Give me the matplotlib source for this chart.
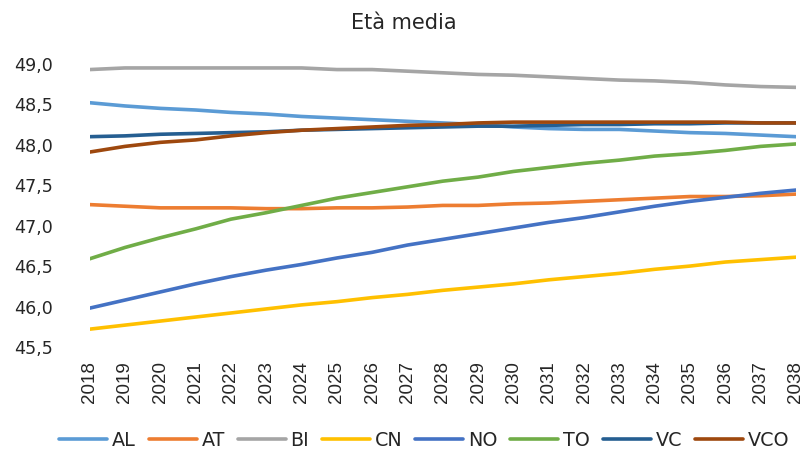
import matplotlib
matplotlib.use("Agg")
import matplotlib.pyplot as plt
from matplotlib.ticker import FuncFormatter, MultipleLocator

plt.rcParams['font.family'] = ['DejaVu Sans']

years = list(range(2018, 2039))

AL = [48.52, 48.48, 48.45, 48.43, 48.40, 48.38, 48.35, 48.33, 48.31, 48.29, 48.27,
      48.25, 48.22, 48.20, 48.19, 48.19, 48.17, 48.15, 48.14, 48.12, 48.10]
AT = [47.26, 47.24, 47.22, 47.22, 47.22, 47.21, 47.21, 47.22, 47.22, 47.23, 47.25,
      47.25, 47.27, 47.28, 47.30, 47.32, 47.34, 47.36, 47.36, 47.37, 47.39]
BI = [48.93, 48.95, 48.95, 48.95, 48.95, 48.95, 48.95, 48.93, 48.93, 48.91, 48.89,
      48.87, 48.86, 48.84, 48.82, 48.80, 48.79, 48.77, 48.74, 48.72, 48.71]
CN = [45.72, 45.77, 45.82, 45.87, 45.92, 45.97, 46.02, 46.06, 46.11, 46.15, 46.20,
      46.24, 46.28, 46.33, 46.37, 46.41, 46.46, 46.50, 46.55, 46.58, 46.61]
NO = [45.98, 46.08, 46.18, 46.28, 46.37, 46.45, 46.52, 46.60, 46.67, 46.76, 46.83,
      46.90, 46.97, 47.04, 47.10, 47.17, 47.24, 47.30, 47.35, 47.40, 47.44]
TO = [46.59, 46.73, 46.85, 46.96, 47.08, 47.16, 47.25, 47.34, 47.41, 47.48, 47.55,
      47.60, 47.67, 47.72, 47.77, 47.81, 47.86, 47.89, 47.93, 47.98, 48.01]
VC = [48.10, 48.11, 48.13, 48.14, 48.15, 48.16, 48.18, 48.19, 48.20, 48.21, 48.22,
      48.23, 48.23, 48.24, 48.25, 48.25, 48.26, 48.26, 48.27, 48.27, 48.27]
VCO = [47.91, 47.98, 48.03, 48.06, 48.11, 48.15, 48.18, 48.20, 48.22, 48.24, 48.25,
       48.27, 48.28, 48.28, 48.28, 48.28, 48.28, 48.28, 48.28, 48.27, 48.27]

series = [("AL", AL, "#5B9BD5"), ("AT", AT, "#ED7D31"), ("BI", BI, "#A5A5A5"),
          ("CN", CN, "#FFC000"), ("NO", NO, "#4472C4"), ("TO", TO, "#70AD47"),
          ("VC", VC, "#255E91"), ("VCO", VCO, "#9E480E")]

text_color = '#262626'

fig = plt.figure(figsize=(8.08, 4.5), dpi=100)
ax = fig.add_axes([0.111, 0.229, 0.874, 0.629])

for name, vals, color in series:
    ax.plot(years, vals, color=color, lw=2.6, label=name, solid_capstyle='round')

ax.set_xlim(2018, 2038)
ax.set_ylim(45.5, 49.0)
ax.yaxis.set_major_locator(MultipleLocator(0.5))
ax.yaxis.set_major_formatter(FuncFormatter(lambda v, p: f"{v:.1f}".replace('.', ',')))
ax.set_xticks(years)
ax.set_xticklabels([str(y) for y in years], rotation=90,
                   fontfamily=['Liberation Sans', 'DejaVu Sans'])
ax.tick_params(axis='y', length=0, labelsize=12.6, colors=text_color, pad=26.5)
ax.tick_params(axis='x', length=0, labelsize=13.5, colors=text_color, pad=10)
for s in ax.spines.values():
    s.set_visible(False)

fig.text(0.5, 0.9356, "Età media", ha='center', va='baseline',
         fontsize=15, color=text_color)

fig.legend(loc='center', bbox_to_anchor=(0.525, 0.022), ncol=8, frameon=False,
           fontsize=13.8, handlelength=2.5, columnspacing=0.67, handletextpad=0.25,
           labelcolor=text_color, borderpad=0.1)

fig.savefig("out.png", dpi=100)
